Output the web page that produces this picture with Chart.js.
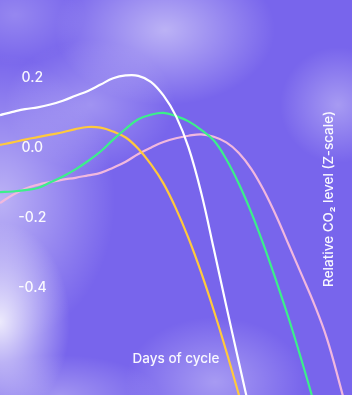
<!DOCTYPE html>
<html>
<head>
<meta charset="utf-8">
<script src="https://cdn.jsdelivr.net/npm/chart.js@4.4.1/dist/chart.umd.min.js"></script>
<style>
  html, body { margin: 0; padding: 0; }
  #wrap {
    width: 352px;
    height: 395px;
    position: relative;
    overflow: hidden;
    background:
      radial-gradient(ellipse 70px 100px at 0px 322px, rgba(255,255,255,0.85), rgba(255,255,255,0) 100%),
      radial-gradient(ellipse 115px 145px at 0px 200px, rgba(255,255,255,0.5), rgba(255,255,255,0) 100%),
      radial-gradient(ellipse 110px 75px at 165px 30px, rgba(255,255,255,0.5), rgba(255,255,255,0) 100%),
      radial-gradient(ellipse 85px 65px at 90px 105px, rgba(255,255,255,0.3), rgba(255,255,255,0) 100%),
      radial-gradient(ellipse 58px 58px at 338px 105px, rgba(255,255,255,0.35), rgba(255,255,255,0) 100%),
      radial-gradient(ellipse 90px 65px at 215px 382px, rgba(255,255,255,0.35), rgba(255,255,255,0) 100%),
      radial-gradient(ellipse 70px 50px at 15px 15px, rgba(255,255,255,0.22), rgba(255,255,255,0) 100%),
      radial-gradient(ellipse 100px 40px at 60px 395px, rgba(255,255,255,0.3), rgba(255,255,255,0) 100%),
      #7865ec;
  }
  canvas { display: block; }
</style>
</head>
<body>
<div id="wrap"><canvas id="myChart" width="352" height="395"></canvas></div>
<script>
// dias del ciclo y valores (Z-score) de cada serie
var days = [1, 2, 3, 4, 5, 6, 7, 8, 9, 10, 11, 12, 13, 14, 15, 16, 17, 18, 19, 20, 21, 22, 23, 24, 25, 26, 27, 28, 29];

var whiteSeries = [0.094, 0.103, 0.111, 0.116, 0.124, 0.135, 0.149, 0.163, 0.181, 0.199, 0.207, 0.206, 0.189, 0.150, 0.091, 0.001, -0.127, -0.287, -0.451, -0.611, -0.771, -0.931, -1.091, -1.251, -1.411, -1.571, -1.731, -1.891, -2.051];
var yellowSeries = [0.009, 0.016, 0.024, 0.031, 0.038, 0.045, 0.054, 0.060, 0.058, 0.047, 0.030, -0.002, -0.046, -0.101, -0.173, -0.258, -0.355, -0.463, -0.580, -0.704, -0.830, -0.956, -1.082, -1.208, -1.334, -1.460, -1.586, -1.712, -1.838];
var greenSeries = [-0.126, -0.124, -0.120, -0.114, -0.098, -0.081, -0.061, -0.037, -0.010, 0.024, 0.055, 0.082, 0.095, 0.100, 0.091, 0.076, 0.052, 0.022, -0.032, -0.102, -0.185, -0.279, -0.382, -0.490, -0.607, -0.730, -0.856, -0.981, -1.107];
var pinkSeries = [-0.157, -0.134, -0.116, -0.105, -0.097, -0.090, -0.085, -0.078, -0.071, -0.056, -0.039, -0.017, 0.001, 0.017, 0.028, 0.035, 0.039, 0.032, 0.016, -0.014, -0.060, -0.122, -0.196, -0.279, -0.362, -0.446, -0.543, -0.670, -0.807];

var yTicks = [0.2, 0.0, -0.2, -0.4];

var textColor = 'rgba(255,255,255,0.95)';
var tickFont = { family: 'Inter', size: 14, weight: '500' };
var titleFont = { family: 'Inter', size: 13.5, weight: '500' };

// titulo del eje Y a la derecha, leido de abajo hacia arriba
var rightTitle = {
    id: 'rightTitle',
    afterDraw: function (chart) {
        var ctx = chart.ctx;
        ctx.save();
        ctx.translate(333, 199);
        ctx.rotate(-Math.PI / 2);
        ctx.font = '500 13.5px Inter';
        ctx.fillStyle = textColor;
        ctx.textAlign = 'center';
        ctx.textBaseline = 'alphabetic';
        ctx.fillText('Relative CO\u2082 level (Z-scale)', 0, 0);
        ctx.restore();
    }
};

function line(data, color) {
    return {
        data: data,
        borderColor: color,
        borderWidth: 2.2,
        pointRadius: 0,
        fill: false,
        tension: 0.4
    };
}

var ctx = document.getElementById('myChart').getContext('2d');
var myChart = new Chart(ctx, {
    type: 'line',
    data: {
        labels: days,
        datasets: [
            line(whiteSeries, '#ffffff'),
            line(greenSeries, '#3cef8a'),
            line(yellowSeries, '#ffc93c'),
            line(pinkSeries, '#f1b8de')
        ]
    },
    options: {
        responsive: false,
        animation: false,
        devicePixelRatio: 1,
        layout: { padding: 0 },
        plugins: {
            legend: { display: false },
            tooltip: { enabled: false }
        },
        scales: {
            x: {
                offset: false,
                grid: { display: false },
                border: { display: false },
                ticks: { display: false },
                title: {
                    display: true,
                    text: 'Days of cycle',
                    color: textColor,
                    font: titleFont,
                    padding: { top: 0, bottom: 28 }
                },
                afterFit: function (scale) {
                    scale.height = 0;
                    scale.paddingLeft = 0;
                    scale.paddingRight = 0;
                }
            },
            y: {
                min: -0.7047,
                max: 0.4223,
                grid: { display: false },
                border: { display: false },
                afterFit: function (scale) {
                    scale.width = 0;
                    scale.paddingTop = 0;
                    scale.paddingBottom = 0;
                },
                afterBuildTicks: function (scale) {
                    scale.ticks = yTicks.map(function (v) { return { value: v }; });
                },
                ticks: {
                    mirror: true,
                    crossAlign: 'center',
                    padding: 18,
                    color: textColor,
                    font: tickFont,
                    callback: function (v) { return v.toFixed(1); }
                }
            }
        }
    },
    plugins: [rightTitle]
});
</script>
</body>
</html>
